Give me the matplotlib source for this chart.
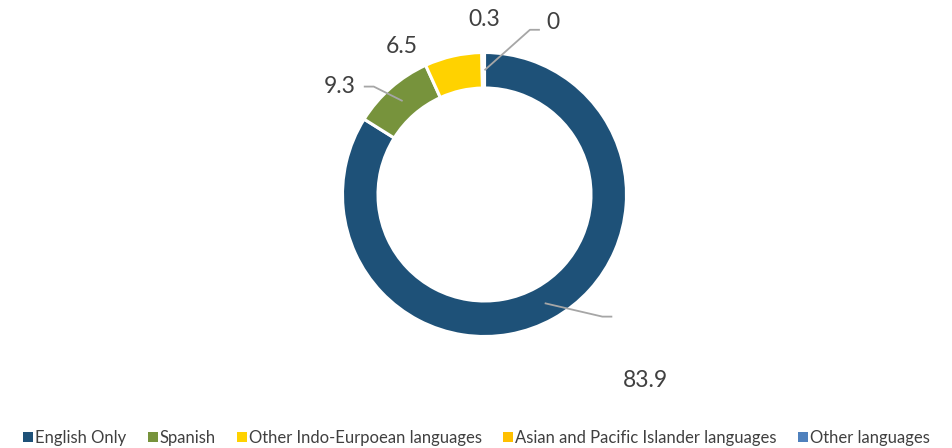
import matplotlib.pyplot as plt
import numpy as np
from matplotlib.patches import Patch

# Data
languages = ["English Only", "Spanish", "Other Indo-Eurpoean languages",
             "Asian and Pacific Islander languages", "Other languages"]
shares = [83.9, 9.3, 6.5, 0.3, 0.0]
colors = ["#1E5178", "#77933C", "#FFD200", "#FFC000", "#4F81BD"]
labels = ["83.9", "9.3", "6.5", "0.3", "0"]

# label layout (units of outer radius): text centre, and leader elbow / end (None = no leader)
text_pos = [(1.13, -1.31), (-1.02, 0.76), (-0.58, 1.04), (0.0, 1.23), (0.48, 1.21)]
leader_end = [(0.90, -0.86), (-0.85, 0.76), None, None, (0.39, 1.16)]
elbow_len = 0.07

text_color = "#404040"
plt.rcParams['font.family'] = ['Lato', 'DejaVu Sans']

W, H = 953, 448
fig = plt.figure(figsize=(W / 100, H / 100), dpi=100)
ax = fig.add_axes([0, 0, 1, 1])

cx, cy, R = 484.5, 194.5, 142.0
ring_w = 0.25

ax.pie(shares, colors=colors, startangle=90, counterclock=False, radius=1,
       wedgeprops=dict(width=ring_w, edgecolor="white", linewidth=2.2))
ax.set_aspect('auto')
ax.set_xlim(-cx / R, (W - cx) / R)
ax.set_ylim(-(H - cy) / R, cy / R)
ax.axis('off')

# leaders and labels
total = sum(shares)
start = 90.0
for i, v in enumerate(shares):
    mid = np.deg2rad(start - (v / 2) / total * 360)
    start -= v / total * 360
    r_mid = 1 - ring_w / 2
    p0 = (r_mid * np.cos(mid), r_mid * np.sin(mid))
    if leader_end[i] is not None:
        ex, ey = leader_end[i]
        sgn = 1 if ex > 0 else -1
        elbow = (ex - sgn * elbow_len, ey)
        ax.plot([p0[0], elbow[0], ex], [p0[1], elbow[1], ey],
                color="#A6A6A6", lw=1.3, solid_capstyle='butt')
    tx, ty = text_pos[i]
    ax.text(tx, ty, labels[i], ha='center', va='center', fontsize=16.5,
            color=text_color)

handles = [Patch(facecolor=c, edgecolor='none') for c in colors]
fig.legend(handles, languages, loc='center', bbox_to_anchor=(0.5, 1 - 438 / H),
           ncol=5, frameon=False, labelcolor=text_color,
           prop=dict(size=12),
           handlelength=0.6, handleheight=0.6, handletextpad=0.1,
           columnspacing=1.3)

fig.savefig("out.png", dpi=100)
